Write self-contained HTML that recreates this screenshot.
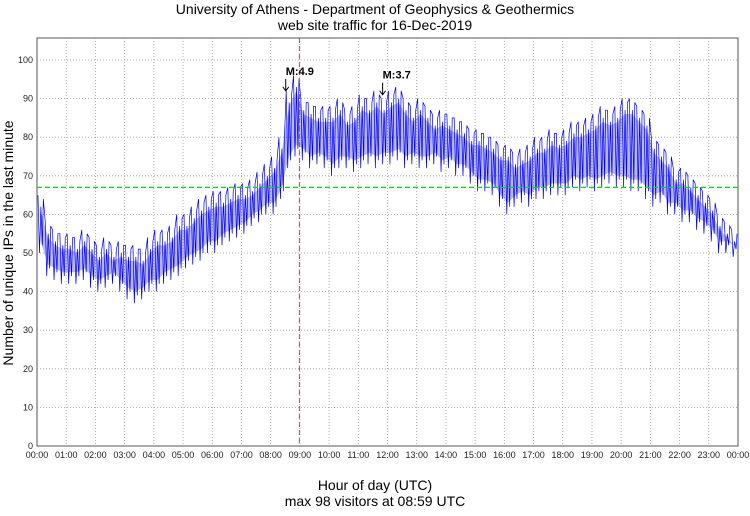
<!DOCTYPE html>
<html><head><meta charset="utf-8"><style>
body{margin:0;background:#fff;width:750px;height:511px;overflow:hidden;font-family:"Liberation Sans",sans-serif}
svg text{font-family:"Liberation Sans",sans-serif}
</style></head><body>
<svg id="chart" width="750" height="511" viewBox="0 0 750 511" xmlns="http://www.w3.org/2000/svg">
<text x="375" y="14" font-size="14" text-anchor="middle">University of Athens - Department of Geophysics &amp; Geothermics</text>
<text x="375" y="30" font-size="14" text-anchor="middle">web site traffic for 16-Dec-2019</text>
<text transform="translate(13,243) rotate(-90)" font-size="14" text-anchor="middle">Number of unique IPs in the last minute</text>
<text x="375" y="490" font-size="14" text-anchor="middle">Hour of day (UTC)</text>
<text x="375" y="506" font-size="14" text-anchor="middle">max 98 visitors at 08:59 UTC</text>
<g id="grid"></g><g id="series"></g><g id="marks"></g>
</svg>
<script>
const yTicks=[0,10,20,30,40,50,60,70,80,90,100];
const xTickLabels=["00:00","01:00","02:00","03:00","04:00","05:00","06:00","07:00","08:00","09:00","10:00","11:00","12:00","13:00","14:00","15:00","16:00","17:00","18:00","19:00","20:00","21:00","22:00","23:00","00:00"];
const binMinutes=15;
const lowValues=[50,44,43,42,42,42,43,41,40,41,42,40,38,37,38,40,40,42,43,44,46,47,48,50,50,52,53,54,55,57,58,60,60,64,72,75,74,72,73,72,70,72,72,71,72,73,72,73,73,74,72,73,72,72,73,71,72,70,70,68,66,66,65,62,60,62,63,62,64,64,65,65,65,67,66,67,66,67,68,67,67,66,66,64,62,63,60,60,58,58,56,55,53,50,50,49];
const highValues=[65,58,56,55,55,54,56,54,52,54,52,53,52,52,51,54,56,56,57,60,60,62,64,65,66,66,67,68,68,69,71,73,75,80,92,96,90,89,88,88,88,90,87,88,91,90,92,90,92,93,90,88,90,88,86,87,86,85,84,82,82,81,80,78,78,76,77,78,80,80,82,81,82,84,84,85,86,88,87,88,90,90,88,86,80,78,76,72,72,70,68,66,64,60,58,56];
const averageValue=67;
const maxMinute=539;
const annotations=[{label:"M:4.9",minute:511,value:92},{label:"M:3.7",minute:710,value:91}];
const X0=37,X1=738,Y0=446,Y100=60,TOP=38;
const xs=m=>X0+(X1-X0)*m/1440;
const ys=v=>Y0-(Y0-Y100)*v/100;
const NS="http://www.w3.org/2000/svg";
function mk(tag,attrs,parent){const e=document.createElementNS(NS,tag);for(const k in attrs)e.setAttribute(k,attrs[k]);document.getElementById(parent).appendChild(e);return e;}
let f=mk("rect",{x:X0,y:TOP,width:X1-X0,height:Y0-TOP,fill:"none",stroke:"#555","stroke-width":1},"grid");


yTicks.forEach(v=>{
 const y=ys(v);
 if(v>0){let g=mk("line",{x1:X0,x2:X1,y1:y,y2:y,stroke:"#999","stroke-dasharray":"1,2","stroke-width":0.8},"grid");
 
 }
 let t=mk("text",{x:X0-4,y:y+3,"font-size":9,"text-anchor":"end",fill:"#222"},"grid");t.textContent=v;
 
 
});
xTickLabels.forEach((l,i)=>{
 const x=xs(i*60);
 if(i>0&&i<24){let g=mk("line",{x1:x,x2:x,y1:TOP,y2:Y0,stroke:"#999","stroke-dasharray":"1,2","stroke-width":0.8},"grid");
 
 }
 let t=mk("text",{x:x,y:Y0+12,"font-size":9,"text-anchor":"middle",fill:"#222"},"grid");t.textContent=l;
 
 
});
let bandTop=[],bandBot=[];
lowValues.forEach((lo,i)=>{const m=i*binMinutes+binMinutes/2;bandTop.push(xs(m)+","+ys(highValues[i]-4));bandBot.unshift(xs(m)+","+ys(lo+3));});
let band=mk("polygon",{points:bandTop.concat(bandBot).join(" "),fill:"#3030ff","fill-opacity":0.35},"series");


let pts=[];
lowValues.forEach((lo,i)=>{const m=i*binMinutes;
 pts.push(xs(m+2)+","+ys(highValues[i]));pts.push(xs(m+5)+","+ys(lo));
 pts.push(xs(m+8)+","+ys(highValues[i]-3));pts.push(xs(m+11)+","+ys(lo+2));
 pts.push(xs(m+13)+","+ys(highValues[i]-1));});
let line=mk("polyline",{points:pts.join(" "),fill:"none",stroke:"#0000ee","stroke-width":0.7},"series");


let avg=mk("line",{x1:X0,x2:X1,y1:ys(averageValue),y2:ys(averageValue),stroke:"#00dd00","stroke-dasharray":"5,3","stroke-width":1.2},"marks");


let mx=mk("line",{x1:xs(maxMinute),x2:xs(maxMinute),y1:TOP,y2:Y0,stroke:"#ff3030","stroke-dasharray":"5,3","stroke-width":1},"marks");


annotations.forEach(a=>{
 const x=xs(a.minute),y=ys(a.value);
 let ar=mk("path",{d:`M${x},${y-12}L${x},${y}M${x-3},${y-4}L${x},${y}L${x+3},${y-4}`,stroke:"#000",fill:"none","stroke-width":1},"marks");
 
 
 let t=mk("text",{x:x,y:y-16,"font-size":11,"font-weight":"bold",fill:"#000"},"marks");t.textContent=a.label;
 
 
});
</script>
</body></html>
